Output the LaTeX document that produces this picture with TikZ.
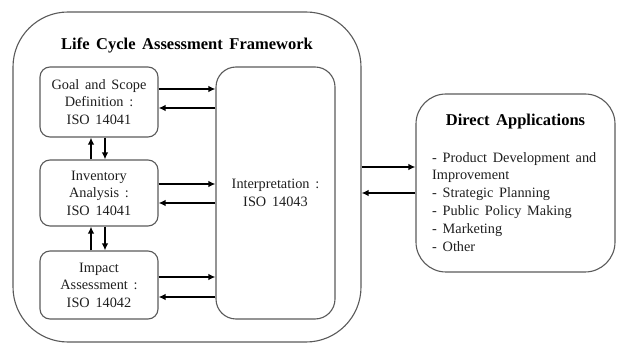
\documentclass[tikz,border=0pt]{standalone}
\usepackage{fontspec}
\setmainfont[WordSpace=1.6]{Liberation Serif}
\usetikzlibrary{arrows.meta,calc}
\definecolor{boxgray}{HTML}{5A5A5A}
\definecolor{inkgray}{HTML}{1E1E1E}
\begin{document}
\begin{tikzpicture}[x=1pt,y=-1pt,
  box/.style={draw=boxgray, line width=1.1pt, rounded corners=#1, inner sep=0pt,
    align=center, text=inkgray, font=\fontsize{14.3}{17.6}\selectfont},
  box/.default=10pt,
  heading/.style={font=\fontsize{16.5}{19}\selectfont\bfseries, inner sep=0pt},
  arr/.style={-{Latex[length=7pt,width=6.5pt]}, line width=1.5pt}]
\useasboundingbox (0,0) rectangle (618,344);

% framework container
\node[box=55pt, minimum width=348pt, minimum height=330pt] (frame) at (187,177) {};
\node[heading] (ftitle) at (187,45) {Life Cycle Assessment Framework};

% phases
\node[box=10pt, minimum width=118pt, minimum height=70pt] (goal) at (99,102)
  {Goal and Scope\\Definition :\\ISO 14041};
\node[box=10pt, minimum width=118pt, minimum height=66pt] (inv) at (99,193)
  {Inventory\\Analysis :\\ISO 14041};
\node[box=10pt, minimum width=118pt, minimum height=68pt] (imp) at (99,285)
  {Impact\\Assessment :\\ISO 14042};
\node[box=20pt, minimum width=119pt, minimum height=252pt] (interp) at (275.5,193)
  {Interpretation :\\ISO 14043};

% applications
\node[box=30pt, minimum width=199pt, minimum height=178pt] (apps) at (515.5,183) {};
\node[heading] (atitle) at (515.5,122) {Direct Applications};
\node[anchor=north west, inner sep=0pt, align=left, text=inkgray,
  font=\fontsize{14.3}{17.8}\selectfont] (alist) at (432,152)
  {- Product Development and\\Improvement\\- Strategic Planning\\- Public Policy Making\\- Marketing\\- Other};

% phase <-> interpretation
\draw[arr] (goal.east |- 0,89) -- (interp.west |- 0,89);
\draw[arr] (interp.west |- 0,108) -- (goal.east |- 0,108);
\draw[arr] (inv.east |- 0,184) -- (interp.west |- 0,184);
\draw[arr] (interp.west |- 0,203) -- (inv.east |- 0,203);
\draw[arr] (imp.east |- 0,277) -- (interp.west |- 0,277);
\draw[arr] (interp.west |- 0,297) -- (imp.east |- 0,297);

% phase <-> phase
\draw[arr] (inv.north -| 91,0) -- (goal.south -| 91,0);
\draw[arr] (goal.south -| 105,0) -- (inv.north -| 105,0);
\draw[arr] (imp.north -| 91,0) -- (inv.south -| 91,0);
\draw[arr] (inv.south -| 105,0) -- (imp.north -| 105,0);

% framework <-> applications
\draw[arr] (frame.east |- 0,167) -- (apps.west |- 0,167);
\draw[arr] (apps.west |- 0,193) -- (frame.east |- 0,193);
\end{tikzpicture}
\end{document}
